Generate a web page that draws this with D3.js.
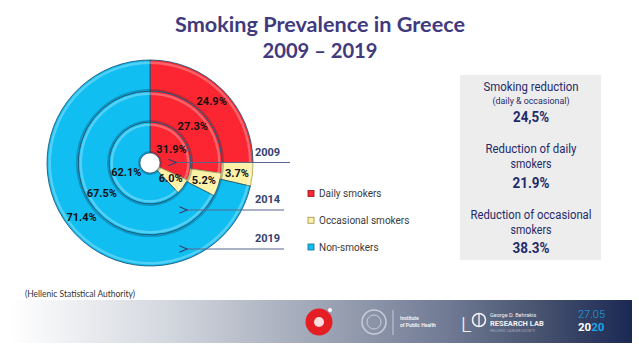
<!DOCTYPE html>
<html><head><meta charset="utf-8">
<script src="https://cdn.jsdelivr.net/npm/d3@7"></script>
<style>body{margin:0;background:#fff;}svg{display:block;}</style>
</head><body>
<svg id="c" width="639" height="351"></svg>
<script>
const years = ["2009", "2014", "2019"];
const categories = ["Daily smokers", "Occasional smokers", "Non-smokers"];
const daily = [31.9, 27.3, 24.9];
const occasional = [6.0, 5.2, 3.7];
const nonSmokers = [62.1, 67.5, 71.4];
const colors = ["#fb2631", "#fdf2a8", "#10bef2"];
const summaryLabels = [["Smoking reduction", "(daily & occasional)"], ["Reduction of daily", "smokers"], ["Reduction of occasional", "smokers"]];
const summaryValues = ["24,5%", "21.9%", "38.3%"];

const svg = d3.select("#c");
const defs = svg.append("defs");

// Title
const titleG = svg.append("g").attr("font-family", "Lato, 'Open Sans', sans-serif").attr("font-weight", "bold").attr("fill", "#413a7e").attr("text-anchor", "middle");
titleG.append("text").attr("x", 320).attr("y", 32).attr("font-size", 20).attr("textLength", 290).attr("lengthAdjust", "spacingAndGlyphs").text("Smoking Prevalence in Greece");
titleG.append("text").attr("x", 320).attr("y", 57.5).attr("font-size", 20).attr("textLength", 115).attr("lengthAdjust", "spacingAndGlyphs").text("2009 – 2019");

// Donut
const cx = 150, cy = 163;
const ring = d3.scaleBand().domain(years).range([10, 103]).paddingInner(0);
const pie = d3.pie().sort(null).value(d => d);
const g = svg.append("g").attr("transform", `translate(${cx},${cy})`);

years.forEach((yr, i) => {
  const vals = [daily[i], occasional[i], nonSmokers[i]];
  const r0 = ring(yr), r1 = ring(yr) + ring.bandwidth();
  const arc = d3.arc().innerRadius(r0).outerRadius(r1);
  const arcs = pie(vals);
  g.selectAll(null).data(arcs).enter().append("path")
    .attr("d", arc)
    .attr("fill", (d, j) => colors[j])
    .attr("stroke", (d, j) => j === 1 ? "#b9a75a" : "#1f5878")
    .attr("stroke-width", 0.9);
  // bevel highlight
  const hl = d3.arc().innerRadius(r1 - 4).outerRadius(r1 - 1.5);
  g.selectAll(null).data(arcs).enter().append("path")
    .attr("d", hl)
    .attr("fill", "#ffffff").attr("opacity", (d, j) => j === 1 ? 0.25 : 0.28);
  const sh = d3.arc().innerRadius(r0 + 0.5).outerRadius(r0 + 2);
  g.selectAll(null).data(arcs).enter().append("path")
    .attr("d", sh)
    .attr("fill", "#0a3550").attr("opacity", 0.3);
  // labels
  const lab = d3.arc().innerRadius(r0).outerRadius(r1);
  g.selectAll(null).data(arcs).enter().append("text")
    .attr("transform", d => { const c = lab.centroid(d); return `translate(${c[0]},${c[1] + 4})`; })
    .attr("text-anchor", "middle")
    .attr("font-family", "Roboto, sans-serif").attr("font-weight", "bold")
    .attr("font-size", 11).attr("fill", "#111")
    .text(d => d.data.toFixed(1) + "%");
});
// hole
g.append("circle").attr("r", ring.range()[0]).attr("fill", "#fff").attr("stroke", "#1f5878").attr("stroke-width", 0.6);

// Year labels and arrows
const yearY = [156, 203, 242];
const arrowY = [162.5, 210, 249];
const arrowX0 = [290, 284, 284];
const arrowX1 = [176, 187, 187];
defs.append("marker").attr("id", "ah").attr("viewBox", "0 0 10 10").attr("refX", 1).attr("refY", 5)
  .attr("markerWidth", 7).attr("markerHeight", 7).attr("orient", "auto-start-reverse")
  .append("path").attr("d", "M10,1 L1,5 L10,9").attr("fill", "none").attr("stroke", "#34406e").attr("stroke-width", 1.3);
years.forEach((yr, i) => {
  svg.append("line").attr("x1", arrowX0[i]).attr("x2", arrowX1[i]).attr("y1", arrowY[i]).attr("y2", arrowY[i])
    .attr("stroke", "#58668f").attr("stroke-width", 1.2).attr("marker-end", "url(#ah)");
  svg.append("text").attr("x", 267.5).attr("y", yearY[i]).attr("text-anchor", "middle")
    .attr("font-family", "Roboto, sans-serif").attr("font-weight", "bold").attr("font-size", 11)
    .attr("fill", "#34406e").text(yr);
});

// Legend
const legY = d3.scalePoint().domain(categories).range([193.5, 247]);
const legBorder = ["#8a1018", "#9c8a40", "#0b6f96"];
categories.forEach((c, j) => {
  svg.append("rect").attr("x", 308).attr("y", legY(c) - 3).attr("width", 6).attr("height", 6)
    .attr("fill", colors[j]).attr("stroke", legBorder[j]).attr("stroke-width", 0.8);
  svg.append("text").attr("x", 319).attr("y", legY(c) + 3.5).attr("font-family", "Roboto, sans-serif")
    .attr("font-size", 10).attr("fill", "#3a3a3a").text(c);
});

// Summary box
svg.append("rect").attr("x", 460).attr("y", 75).attr("width", 141).attr("height", 185).attr("fill", "#ededed");
const sg = svg.append("g").attr("font-family", "Roboto, sans-serif").attr("fill", "#1f2a6b").attr("text-anchor", "middle");
const sx = 531;
sg.append("text").attr("x", sx).attr("y", 91).attr("font-size", 12.5).attr("textLength", 95).attr("lengthAdjust", "spacingAndGlyphs").text(summaryLabels[0][0]);
sg.append("text").attr("x", sx).attr("y", 104).attr("font-size", 9).attr("textLength", 77).attr("lengthAdjust", "spacingAndGlyphs").text(summaryLabels[0][1]);
sg.append("text").attr("x", sx).attr("y", 122).attr("font-size", 14).attr("font-weight", "bold").attr("textLength", 36).attr("lengthAdjust", "spacingAndGlyphs").text(summaryValues[0]);
sg.append("text").attr("x", sx).attr("y", 153).attr("font-size", 12.5).attr("textLength", 91).attr("lengthAdjust", "spacingAndGlyphs").text(summaryLabels[1][0]);
sg.append("text").attr("x", sx).attr("y", 168).attr("font-size", 12.5).attr("textLength", 41).attr("lengthAdjust", "spacingAndGlyphs").text(summaryLabels[1][1]);
sg.append("text").attr("x", sx).attr("y", 187.5).attr("font-size", 14).attr("font-weight", "bold").attr("textLength", 37).attr("lengthAdjust", "spacingAndGlyphs").text(summaryValues[1]);
sg.append("text").attr("x", sx).attr("y", 219).attr("font-size", 12.5).attr("textLength", 121).attr("lengthAdjust", "spacingAndGlyphs").text(summaryLabels[2][0]);
sg.append("text").attr("x", sx).attr("y", 234).attr("font-size", 12.5).attr("textLength", 41).attr("lengthAdjust", "spacingAndGlyphs").text(summaryLabels[2][1]);
sg.append("text").attr("x", sx).attr("y", 252.5).attr("font-size", 14).attr("font-weight", "bold").attr("textLength", 37).attr("lengthAdjust", "spacingAndGlyphs").text(summaryValues[2]);

// Source
svg.append("text").attr("x", 25).attr("y", 297).attr("font-family", "Lato, 'Open Sans', sans-serif")
  .attr("font-size", 8.5).attr("fill", "#333").attr("textLength", 110).attr("lengthAdjust", "spacingAndGlyphs")
  .text("(Hellenic Statistical Authority)");

// Footer band
const grad = defs.append("linearGradient").attr("id", "band").attr("x1", "0").attr("x2", "1").attr("y1", "0").attr("y2", "0");
[[0, "#ffffff"], [0.25, "#d4d8df"], [0.5, "#9ea5b5"], [0.7, "#717b95"], [0.85, "#47536f"], [1, "#1b2853"]]
  .forEach(s => grad.append("stop").attr("offset", s[0]).attr("stop-color", s[1]));
svg.append("rect").attr("x", 10).attr("y", 300).attr("width", 622).attr("height", 43).attr("fill", "url(#band)");

// Footer logos (approximate)
svg.append("circle").attr("cx", 319).attr("cy", 322).attr("r", 13.5).attr("fill", "#e51d25");
svg.append("circle").attr("cx", 319).attr("cy", 322).attr("r", 5).attr("fill", "#fff").attr("opacity", 0.85);
svg.append("circle").attr("cx", 330).attr("cy", 310).attr("r", 2).attr("fill", "#fff");
svg.append("circle").attr("cx", 374).attr("cy", 322).attr("r", 12).attr("fill", "none").attr("stroke", "#d8dce4").attr("stroke-width", 1.5).attr("opacity", 0.8);
svg.append("circle").attr("cx", 374).attr("cy", 322).attr("r", 7).attr("fill", "none").attr("stroke", "#d8dce4").attr("stroke-width", 1).attr("opacity", 0.8);
svg.append("line").attr("x1", 393).attr("x2", 393).attr("y1", 310).attr("y2", 335).attr("stroke", "#d8dce4").attr("stroke-width", 0.8);
const ft = svg.append("g").attr("font-family", "Roboto, sans-serif").attr("fill", "#f0f2f6");
ft.append("text").attr("x", 400).attr("y", 320).attr("font-size", 5).attr("font-weight", "bold").text("Institute");
ft.append("text").attr("x", 400).attr("y", 327).attr("font-size", 5).attr("font-weight", "bold").text("of Public Health");
ft.append("text").attr("x", 461).attr("y", 332).attr("font-size", 20).attr("font-weight", "300").text("L");
svg.append("circle").attr("cx", 479).attr("cy", 320).attr("r", 6.5).attr("fill", "none").attr("stroke", "#f0f2f6").attr("stroke-width", 1.6);
svg.append("line").attr("x1", 479).attr("x2", 479).attr("y1", 313).attr("y2", 327).attr("stroke", "#f0f2f6").attr("stroke-width", 1.4);
ft.append("text").attr("x", 490).attr("y", 317).attr("font-size", 5.5).text("George D. Behrakis");
ft.append("text").attr("x", 490).attr("y", 326).attr("font-size", 7.5).attr("font-weight", "bold").text("RESEARCH LAB");
ft.append("text").attr("x", 490).attr("y", 332).attr("font-size", 3.5).attr("fill", "#aab").text("HELLENIC CANCER SOCIETY");
ft.append("text").attr("x", 578).attr("y", 318).attr("font-size", 11).attr("fill", "#1aa6e6").attr("font-weight", "300").text("27.05");
const yr = ft.append("text").attr("x", 578).attr("y", 331).attr("font-size", 11.5).attr("font-weight", "bold");
yr.append("tspan").attr("fill", "#ffffff").text("20");
yr.append("tspan").attr("fill", "#1aa6e6").text("20");
</script>
</body></html>
